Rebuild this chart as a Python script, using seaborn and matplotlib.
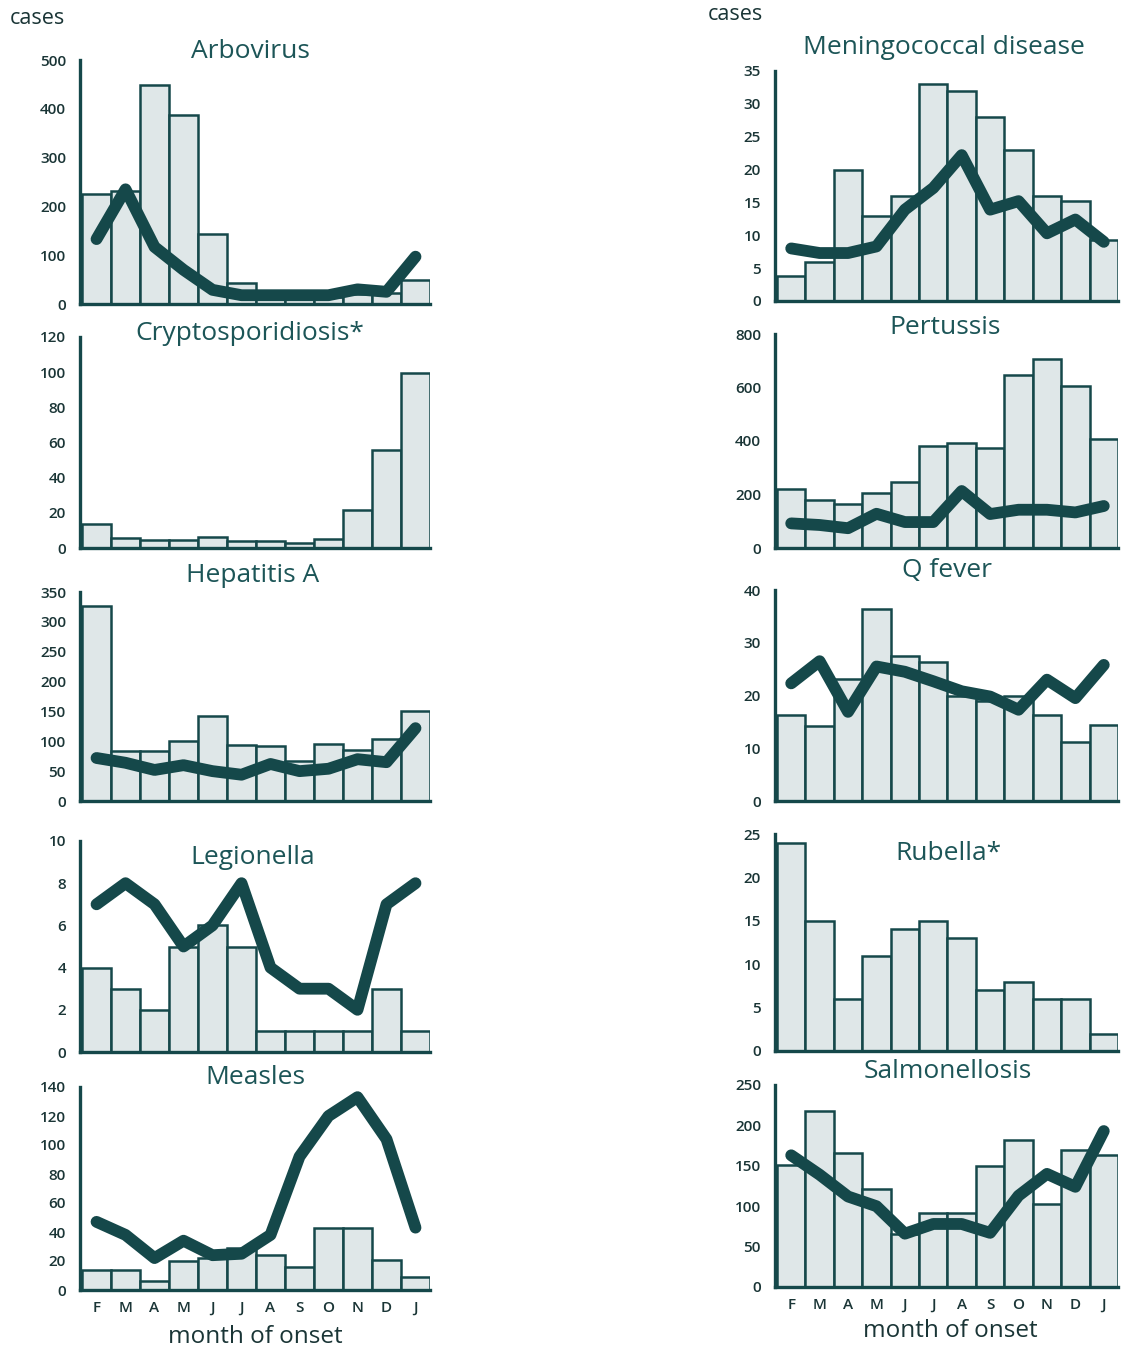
import numpy as np
import pandas as pd
import matplotlib
import matplotlib.pyplot as plt
import seaborn as sns

matplotlib.use("Agg")
sns.set_style("white")
plt.rcParams["font.family"] = ["Open Sans", "DejaVu Sans"]

months = ["Feb", "Mar", "Apr", "May", "Jun", "Jul", "Aug", "Sep", "Oct", "Nov", "Dec", "Jan"]
month_letters = ["F", "M", "A", "M", "J", "J", "A", "S", "O", "N", "D", "J"]

# bars = cases in the year, line = previous average
arbo_bars = [225, 232, 448, 387, 144, 43, 18, 15, 15, 20, 22, 50]
arbo_line = [133, 235, 117, 70, 29, 18, 18, 18, 18, 30, 25, 97]
crypto_bars = [13.8, 5.7, 4.3, 4.3, 6.0, 3.8, 3.8, 3.0, 5.0, 21.7, 55.8, 99.6]
hepa_bars = [327, 83, 83, 100, 142, 94, 92, 67, 96, 86, 104, 151]
hepa_line = [72, 64, 52, 60, 50, 44, 62, 50, 54, 70, 65, 122]
legio_bars = [4, 3, 2, 5, 6, 5, 1, 1, 1, 1, 3, 1]
legio_line = [7, 8, 7, 5, 6, 8, 4, 3, 3, 2, 7, 8]
measles_bars = [14, 14, 6, 20, 22, 29, 24, 16, 43, 43, 20.5, 9]
measles_line = [47, 38, 22, 34, 24, 25, 38, 92, 120, 133, 104, 43]
mening_bars = [3.8, 6, 20, 13, 16, 33, 32, 28, 23, 16, 15.2, 9.3]
mening_line = [8, 7.3, 7.3, 8.3, 13.9, 17.2, 22.2, 13.9, 15.2, 10.3, 12.4, 9]
pert_bars = [219, 180, 164, 205, 247, 383, 393, 372, 645, 706, 604, 406]
pert_line = [92, 86, 74, 128, 97, 97, 213, 127, 143, 143, 133, 157]
qfever_bars = [16.3, 14.3, 23.2, 36.4, 27.4, 26.4, 20, 19, 20, 16.3, 11.2, 14.5]
qfever_line = [22.3, 26.5, 16.9, 25.5, 24.5, 22.7, 20.8, 19.8, 17.3, 23, 19.5, 25.8]
rubella_bars = [24, 15, 6, 11, 14, 15, 13, 7, 8, 6, 6, 2]
salm_bars = [151, 218, 166, 121, 65, 91, 91, 150, 182, 103, 170, 163]
salm_line = [163, 139, 112, 100, 66, 78, 78, 67, 113, 140, 124, 193]

TEAL = "#15484a"
BAR_FILL = "#dfe7e8"
TEXT = "#1c5557"
DARK = "#1a3536"

W, H = 1123, 1350
fig = plt.figure(figsize=(W / 100, H / 100), dpi=100)
fig.patch.set_facecolor("white")


def px_axes(x0, x1, top, bottom):
    return fig.add_axes([x0 / W, 1 - bottom / H, (x1 - x0) / W, (bottom - top) / H])


def panel(x0, x1, top, bottom, bars, line, ymax, ystep, title, tx, ty, xlabels=False):
    ax = px_axes(x0, x1, top, bottom)
    df = pd.DataFrame({"month": months, "cases": bars})
    sns.barplot(data=df, x="month", y="cases", order=months, color=BAR_FILL,
                saturation=1, width=1.0, edgecolor=TEAL, linewidth=1.8, ax=ax)
    if line is not None:
        ldf = pd.DataFrame({"pos": np.arange(12), "avg": line})
        sns.lineplot(data=ldf, x="pos", y="avg", color=TEAL, linewidth=8.5,
                     solid_capstyle="round", solid_joinstyle="round", ax=ax)
    ax.set_xlim(-0.57, 11.5)
    ax.set_ylim(0, ymax)
    ax.set_yticks(np.arange(0, ymax + ystep / 2, ystep))
    ax.set_xlabel("")
    ax.set_ylabel("")
    ax.patch.set_alpha(0)
    for s in ["top", "right"]:
        ax.spines[s].set_visible(False)
    for s in ["left", "bottom"]:
        ax.spines[s].set_color(TEAL)
        ax.spines[s].set_linewidth(2.4)
    ax.tick_params(axis="y", direction="out", length=4, width=2.2, color=TEAL,
                   labelsize=11, labelcolor=DARK, pad=6)
    for lab in ax.get_yticklabels():
        lab.set_fontweight("semibold")
    if xlabels:
        ax.set_xticks(range(12))
        ax.set_xticklabels(month_letters, fontweight="semibold")
        ax.tick_params(axis="x", length=0, labelsize=11, labelcolor=DARK, pad=8)
    else:
        ax.set_xticks([])
    fig.text(tx / W, 1 - ty / H, title, ha="center", va="center", fontsize=19, color=TEXT)
    return ax


LX0, LX1 = 80, 430
RX0, RX1 = 775, 1118

panel(LX0, LX1, 60, 304, arbo_bars, arbo_line, 500, 100, "Arbovirus", 250, 52)
panel(LX0, LX1, 337, 548, crypto_bars, None, 120, 20, "Cryptosporidiosis*", 250, 333)
panel(LX0, LX1, 592, 801, hepa_bars, hepa_line, 350, 50, "Hepatitis A", 253, 575)
panel(LX0, LX1, 841, 1052, legio_bars, legio_line, 10, 2, "Legionella", 253, 857)
panel(LX0, LX1, 1087, 1290, measles_bars, measles_line, 140, 20, "Measles", 255, 1078, xlabels=True)

panel(RX0, RX1, 71, 301, mening_bars, mening_line, 35, 5, "Meningococcal disease", 944, 48)
panel(RX0, RX1, 334, 548, pert_bars, pert_line, 800, 200, "Pertussis", 945, 327)
panel(RX0, RX1, 590, 801, qfever_bars, qfever_line, 40, 10, "Q fever", 947, 570)
panel(RX0, RX1, 834, 1051, rubella_bars, None, 25, 5, "Rubella*", 948, 853)
panel(RX0, RX1, 1085, 1287, salm_bars, salm_line, 250, 50, "Salmonellosis", 948, 1071, xlabels=True)

fig.text(10 / W, 1 - 18 / H, "cases", ha="left", va="center", fontsize=15.5, color=DARK)
fig.text(708 / W, 1 - 14 / H, "cases", ha="left", va="center", fontsize=15.5, color=DARK)
fig.text(255 / W, 1 - 1337 / H, "month of onset", ha="center", va="center", fontsize=17.5, color=DARK)
fig.text(950 / W, 1 - 1331 / H, "month of onset", ha="center", va="center", fontsize=17.5, color=DARK)

fig.savefig("out.png", dpi=100, facecolor="white")
